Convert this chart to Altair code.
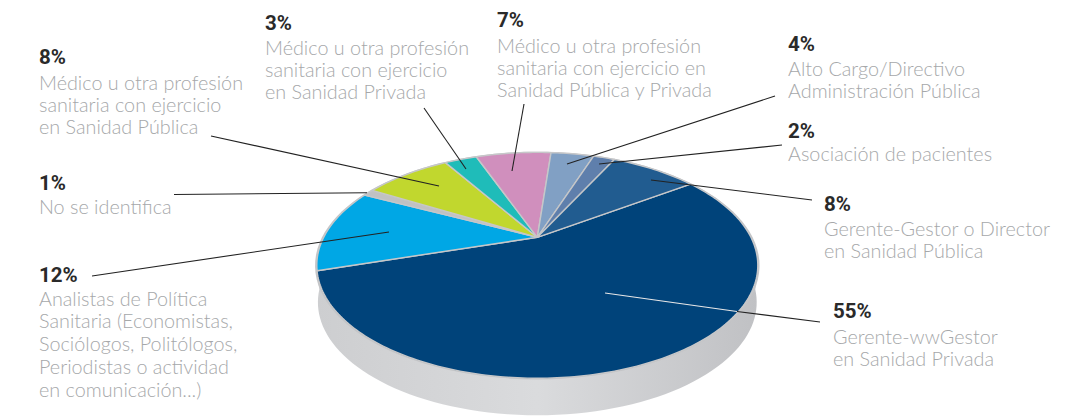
import math
import altair as alt
import pandas as pd

# ---- chart values ----
categories = ["Gerente-wwGestor en Sanidad Privada",
              "Analistas de Política Sanitaria",
              "No se identifica",
              "Médico Sanidad Pública",
              "Médico Sanidad Privada",
              "Médico Sanidad Pública y Privada",
              "Alto Cargo/Directivo Administración Pública",
              "Asociación de pacientes",
              "Gerente-Gestor o Director en Sanidad Pública"]
shares = [55, 12, 1, 8, 3, 7, 4, 2, 8]
colors = ["#00437a", "#00a7e5", "#c0c1c3", "#c1d72e", "#1fbcb9",
          "#d08fbd", "#81a0c4", "#5f7fac", "#215c90"]

pct_labels = ["8%", "1%", "12%", "3%", "7%", "4%", "2%", "8%", "55%"]
desc_labels = [
    ["Médico u otra profesión", "sanitaria con ejercicio", "en Sanidad Pública"],
    ["No se identifica"],
    ["Analistas de Política", "Sanitaria (Economistas,", "Sociólogos, Politólogos,",
     "Periodistas o actividad", "en comunicación...)"],
    ["Médico u otra profesión", "sanitaria con ejercicio", "en Sanidad Privada"],
    ["Médico u otra profesión", "sanitaria con ejercicio en", "Sanidad Pública y Privada"],
    ["Alto Cargo/Directivo", "Administración Pública"],
    ["Asociación de pacientes"],
    ["Gerente-Gestor o Director", "en Sanidad Pública"],
    ["Gerente-wwGestor", "en Sanidad Privada"],
]

# ---- layout (page pixels) ----
W, H = 1065, 408
APEX = (537.3, 237.3)
PX, PY, PC = 213.6, 106.0, -0.248   # perspective of the disc
START_DEG = 55.0
RIM_DROP, RIM_SHRINK = 37.0, 0.995
BASE_GROW = 1.008
label_x = [39, 39, 39, 265, 497, 788, 788, 824, 833]
pct_y = [64, 190, 282, 30, 27, 51, 138, 211, 318]
desc_y = [[90, 112, 134], [214], [306, 328, 351, 374, 397], [55, 77, 99],
          [53, 75, 97], [76, 98], [161], [236, 258], [344, 366]]
leaders = [  # x, y, x2, y2, colour
    (211, 136, 439, 186, "#222222"),
    (174, 194.5, 367, 192.7, "#222222"),
    (92, 276, 389, 232, "#222222"),
    (424, 108, 466, 169, "#222222"),
    (524, 104, 512, 171, "#222222"),
    (775, 96, 567, 164, "#222222"),
    (782, 145, 599, 164, "#222222"),
    (812, 200, 651, 180, "#222222"),
    (737, 311.5, 820, 322, "#222222"),
    (605, 293, 737, 311.5, "#e8e8e8"),
]


def disc(theta_deg):
    t = math.radians(theta_deg)
    u, v = math.sin(t), -math.cos(t)
    k = 1 + PC * v
    return APEX[0] + PX * u / k, APEX[1] + PY * v / k


features = []
a = START_DEG
for cat, share, col in zip(categories, shares, colors):
    span = share * 3.6
    steps = max(2, int(span))
    ring = [list(disc(a + span * i / steps)) for i in range(steps + 1)]
    poly = [list(APEX)] + ring + [list(APEX)]
    features.append({"type": "Feature", "properties": {"name": cat, "share": share, "color": col},
                     "geometry": {"type": "Polygon", "coordinates": [poly]}})
    a += span

# rim: the lower half of the disc, dropped and slightly narrowed
left = disc(254)
right = disc(106)
rim = [list(right)]
for d in range(98, 263, 2):
    x, y = disc(d)
    rim.append([APEX[0] + (x - APEX[0]) * RIM_SHRINK, y + RIM_DROP])
rim += [list(left), list(right)]
rim_feature = {"type": "Feature", "properties": {"name": "rim"},
               "geometry": {"type": "Polygon", "coordinates": [rim]}}

# thin grey edge that surrounds the top of the disc
base = []
for d in range(0, 361, 3):
    x, y = disc(d)
    base.append([APEX[0] + (x - APEX[0]) * BASE_GROW, APEX[1] + (y - APEX[1]) * BASE_GROW])
base_feature = {"type": "Feature", "properties": {"name": "edge"},
                "geometry": {"type": "Polygon", "coordinates": [base]}}

PROJ = dict(type="identity", scale=1, translate=[-8, -8])

rim_layer = alt.Chart(alt.Data(values=[rim_feature])).mark_geoshape(
    fill=alt.Gradient(gradient="linear", x1=0, x2=1, y1=0, y2=0, stops=[
        alt.GradientStop(offset=0, color="#cdced0"),
        alt.GradientStop(offset=0.5, color="#dadbdd"),
        alt.GradientStop(offset=1, color="#c0c1c4")]),
    strokeWidth=0).project(**PROJ)

base_layer = alt.Chart(alt.Data(values=[base_feature])).mark_geoshape(
    fill="#c4c5c7", strokeWidth=0).project(**PROJ)

slices = alt.Chart(alt.Data(values=features)).mark_geoshape(
    stroke="#c6c7c9", strokeWidth=1.4, strokeJoin="round"
).encode(
    color=alt.Color("properties.color:N", scale=None),
    tooltip=["properties.name:N", "properties.share:Q"],
).project(**PROJ)

xs = alt.Scale(domain=[8, 8 + W], range=[0, W])
ys = alt.Scale(domain=[8, 8 + H], range=[0, H])

lead_df = pd.DataFrame(leaders, columns=["x", "y", "x2", "y2", "c"])
lines = alt.Chart(lead_df).mark_rule(strokeWidth=1.1).encode(
    x=alt.X("x:Q", scale=xs, axis=None), x2="x2:Q",
    y=alt.Y("y:Q", scale=ys, axis=None), y2="y2:Q",
    color=alt.Color("c:N", scale=None),
)

pct_df = pd.DataFrame({"x": label_x, "y": pct_y, "t": pct_labels})
pct = alt.Chart(pct_df).mark_text(align="left", baseline="alphabetic", font="Roboto",
                                  fontSize=20.5, fontWeight=700, color="#2a2a2a").encode(
    x=alt.X("x:Q", scale=xs, axis=None), y=alt.Y("y:Q", scale=ys, axis=None), text="t:N")

rows = [{"x": lx, "y": yy, "t": tt}
        for lx, ys_, ls in zip(label_x, desc_y, desc_labels)
        for yy, tt in zip(ys_, ls)]
desc = alt.Chart(pd.DataFrame(rows)).mark_text(align="left", baseline="alphabetic", font="Lato",
                                               fontSize=19.8, fontWeight=300, color="#a6a8aa").encode(
    x=alt.X("x:Q", scale=xs, axis=None), y=alt.Y("y:Q", scale=ys, axis=None), text="t:N")

chart = alt.layer(rim_layer, base_layer, slices, lines, pct, desc).properties(
    width=W, height=H, padding=0, autosize=alt.AutoSizeParams(type="none")
).configure_view(stroke=None)

chart.save("out.html", embed_options={"renderer": "svg", "actions": False})
